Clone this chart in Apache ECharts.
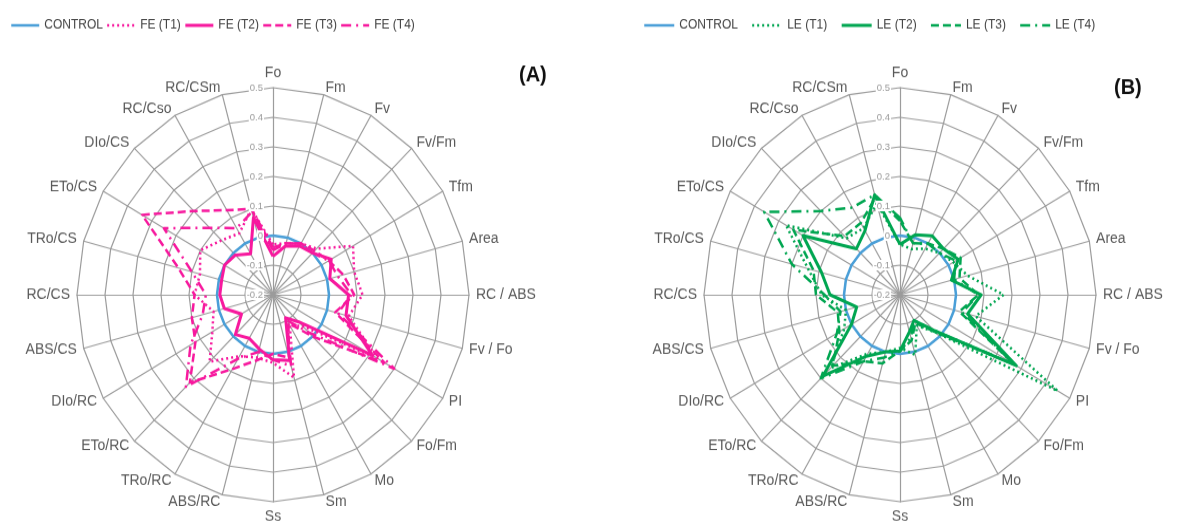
<!DOCTYPE html>
<html><head><meta charset="utf-8">
<script src="https://cdn.jsdelivr.net/npm/echarts@6/dist/echarts.min.js"></script>
<style>
html{overflow:hidden;}
html,body{margin:0;padding:0;background:#fff;}
body{height:525px;}
#main{width:1187px;height:497px;transform:scaleY(1.0563);transform-origin:0 0;}
</style></head><body><div id="main"></div>
<script>
// ---- data ----
const axisNames = ['Fo','Fm','Fv','Fv/Fm','Tfm','Area','RC / ABS','Fv / Fo','PI','Fo/Fm','Mo','Sm','Ss','ABS/RC','TRo/RC','ETo/RC','DIo/RC','ABS/CS','RC/CS','TRo/CS','ETo/CS','DIo/CS','RC/Cso','RC/CSm'];
const ticks = [-0.2,-0.1,0,0.1,0.2,0.3,0.4,0.5];
const namesA = ['CONTROL','FE (T1)','FE (T2)','FE (T3)','FE (T4)'];
const namesB = ['CONTROL','LE (T1)','LE (T2)','LE (T3)','LE (T4)'];
const control = [0,0,0,0,0,0,0,0,0,0,0,0,0,0,0,0,0,0,0,0,0,0,0,0];
const feT1 = [-0.03,-0.02,0.0,0.02,0.13,0.10,0.12,0.08,0.23,-0.05,-0.08,0.09,0.03,0.02,0.04,0.12,0.05,0.02,0.08,0.07,0.10,0.06,0.04,0.10];
const feT2 = [-0.07,-0.03,-0.01,0.0,0.04,0.01,0.07,0.07,0.21,-0.07,-0.11,0.03,0.02,-0.01,-0.03,-0.01,-0.07,-0.02,-0.01,-0.01,0.0,-0.01,-0.04,0.07];
const feT3 = [-0.04,-0.02,0.0,0.01,0.03,0.06,0.09,0.03,0.26,0.0,-0.09,0.02,0.0,0.03,0.09,0.22,0.12,0.10,0.08,0.15,0.34,0.20,0.13,0.10];
const feT4 = [-0.05,-0.02,0.0,0.0,0.03,0.04,0.08,0.04,0.30,-0.02,-0.10,0.05,0.02,0.0,0.05,0.24,0.14,0.06,0.04,0.10,0.25,0.12,0.06,0.09];
const leT1 = [-0.03,-0.04,-0.02,0.0,0.02,0.05,0.17,0.08,0.45,-0.02,-0.08,0.01,-0.02,0.0,0.03,0.15,0.03,0.0,0.08,0.14,0.27,0.07,0.06,0.12];
const leT2 = [-0.03,0.01,0.03,0.02,0.04,-0.01,0.09,0.05,0.28,-0.03,-0.10,-0.07,-0.01,0.0,0.04,0.19,0.0,-0.04,0.05,0.09,0.20,0.02,0.05,0.15];
const leT3 = [0.05,-0.02,0.0,0.02,0.05,0.02,0.08,0.02,0.27,-0.02,-0.09,-0.04,-0.01,0.04,0.06,0.14,0.05,0.03,0.10,0.12,0.24,0.08,0.08,0.14];
const leT4 = [0.06,-0.02,0.0,0.0,0.03,0.0,0.08,0.03,0.27,-0.03,-0.10,-0.05,-0.01,0.02,0.06,0.20,0.06,0.02,0.07,0.20,0.36,0.20,0.14,0.15];

// ---- styles ----
const BLUE = '#4A9FD8', PINK = '#F7199E', GREEN = '#00A651';
const FONT = 'Liberation Sans, Arial, sans-serif';
const dashTypes = ['solid', [2, 3], 'solid', [8, 4], [10, 5, 2, 5]];
const widths = [2.5, 2.5, 3, 2.5, 2.5];
function colorFor(k, accent) { return k === 0 ? BLUE : accent; }
// radar lays indicators counter-clockwise; reorder so they run clockwise
function cw(arr) { return [arr[0]].concat(arr.slice(1).reverse()); }

const centers = [[273, 279], [900, 279]];
const R = 196;
const charts = [
  { names: namesA, values: [control, feT1, feT2, feT3, feT4], accent: PINK },
  { names: namesB, values: [control, leT1, leT2, leT3, leT4], accent: GREEN }
];

const radar = charts.map((c, i) => ({
  center: centers[i], radius: R, startAngle: 90, shape: 'polygon', splitNumber: ticks.length - 1,
  indicator: cw(axisNames).map(n => ({ name: n, min: ticks[0], max: ticks[ticks.length - 1] })),
  axisName: { color: '#595959', fontSize: 14, fontFamily: FONT },
  nameGap: 7,
  splitLine: { lineStyle: { color: '#9c9c9c', width: 1.2 } },
  splitArea: { show: false },
  axisLine: { lineStyle: { color: '#9c9c9c', width: 1.2 } },
  axisTick: { show: false },
  axisLabel: { show: false }
}));

const polar = centers.map(c => ({ center: c, radius: R }));
const angleAxis = centers.map((c, i) => ({ polarIndex: i, type: 'value', min: 0, max: 360, startAngle: 90, show: false }));
const radiusAxis = centers.map((c, i) => ({
  polarIndex: i, type: 'value', min: ticks[0], max: ticks[ticks.length - 1], interval: 0.1,
  axisLine: { show: false }, axisTick: { show: false }, splitLine: { show: false },
  axisLabel: { fontSize: 9.5, color: '#9a9a9a', fontFamily: FONT, margin: 9,
    formatter: v => (Math.round(v * 10) / 10).toString(), backgroundColor: '#fff', padding: [0, 1] },
  z: 5
}));

const series = [];
// legend carriers (line series give dashed legend icons)
const seen = {};
charts.forEach(c => c.names.forEach((n, k) => {
  if (seen[n]) return; seen[n] = 1;
  series.push({ type: 'line', name: n, data: [], symbol: 'none', xAxisIndex: 0, yAxisIndex: 0,
    lineStyle: { color: colorFor(k, c.accent), type: dashTypes[k], width: widths[k] } });
}));
charts.forEach((c, i) => c.names.forEach((n, k) => {
  series.push({ type: 'radar', radarIndex: i, name: n, symbol: 'none', silent: true,
    lineStyle: { color: colorFor(k, c.accent), type: dashTypes[k], width: widths[k] },
    itemStyle: { color: colorFor(k, c.accent) },
    emphasis: { disabled: true },
    data: [{ name: n, value: cw(c.values[k]) }] });
}));

function legendData(c) {
  return c.names.map((n, k) => ({ name: n,
    lineStyle: { color: colorFor(k, c.accent), type: dashTypes[k], width: widths[k] } }));
}
const legend = [
  { left: 5, top: 13, itemWidth: 28, itemHeight: 14, itemGap: 3, data: legendData(charts[0]) },
  { left: 638, top: 13, itemWidth: 30, itemHeight: 14, itemGap: 13, data: legendData(charts[1]) }
].map(l => Object.assign(l, { selectedMode: false, textStyle: { color: '#404040', fontSize: 12, fontFamily: FONT },
  itemStyle: { color: 'rgba(0,0,0,0)', borderWidth: 0 } }));

const option = {
  animation: false,
  backgroundColor: '#fff',
  title: [
    { text: '(A)', left: 514, top: 56, textStyle: { fontSize: 20, fontWeight: 'bold', color: '#111', fontFamily: FONT } },
    { text: '(B)', left: 1109, top: 68, textStyle: { fontSize: 20, fontWeight: 'bold', color: '#111', fontFamily: FONT } }
  ],
  legend,
  grid: { show: false, left: 0, top: 0, width: 1, height: 1 },
  xAxis: { type: 'category', show: false, data: [] },
  yAxis: { type: 'value', show: false },
  radar, polar, angleAxis, radiusAxis,
  series
};
const chart = echarts.init(document.getElementById('main'), null, { renderer: 'canvas' });
chart.setOption(option);
</script></body></html>
